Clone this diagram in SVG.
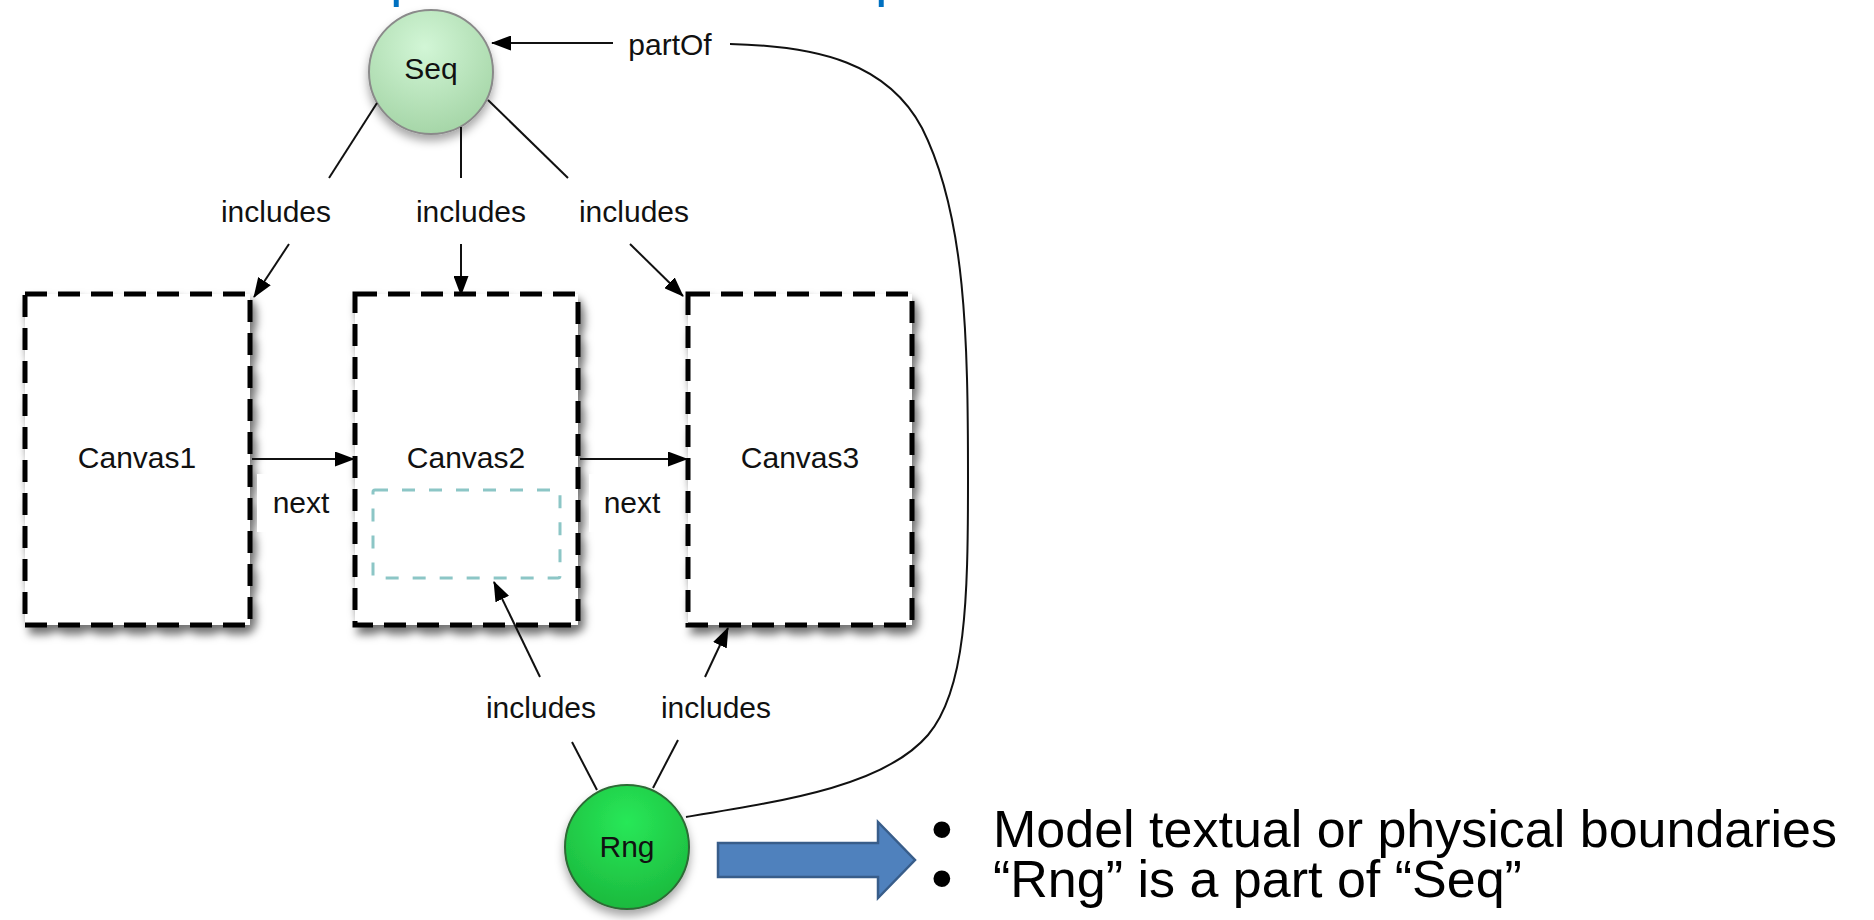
<svg xmlns="http://www.w3.org/2000/svg" width="1874" height="920" viewBox="0 0 1874 920">
  <defs>
    <style>
      .lbl { font-family: "Liberation Sans", Arial, Helvetica, sans-serif; font-size: 30px; fill: #111; text-anchor: middle; }
      .canvas { fill: #fff; stroke: #000; stroke-width: 5; stroke-dasharray: 22 11; }
      .inner { fill: none; stroke: #8cc6c6; stroke-width: 3; stroke-dasharray: 13 14; }
      .edge { fill: none; stroke: #111; stroke-width: 2; }
      .arrow { marker-end: url(#head); }
      .bullet { font-family: "Liberation Sans", Arial, Helvetica, sans-serif; font-size: 52px; fill: #000; }
      .dot { font-family: "Liberation Sans", Arial, Helvetica, sans-serif; font-size: 62px; fill: #000; }
      .title { font-family: "Liberation Sans", Arial, Helvetica, sans-serif; font-size: 56px; fill: #0070c0; }
    </style>
    <marker id="head" markerUnits="userSpaceOnUse" markerWidth="20" markerHeight="15" refX="19" refY="7.5" orient="auto">
      <path d="M0,0 L20,7.5 L0,15 Z" fill="#000"/>
    </marker>
    <filter id="shadow" x="-20%" y="-20%" width="150%" height="150%">
      <feDropShadow dx="4" dy="7" stdDeviation="4" flood-color="#000" flood-opacity="0.55"/>
    </filter>
    <filter id="softShadow" x="-30%" y="-30%" width="160%" height="170%">
      <feDropShadow dx="0" dy="6" stdDeviation="5" flood-color="#000" flood-opacity="0.35"/>
    </filter>
    <radialGradient id="seqFill" cx="45%" cy="30%" r="70%">
      <stop offset="0" stop-color="#d2f6d6"/>
      <stop offset="1" stop-color="#a6d6a8"/>
    </radialGradient>
    <radialGradient id="rngFill" cx="50%" cy="30%" r="70%">
      <stop offset="0" stop-color="#28e858"/>
      <stop offset="1" stop-color="#1cba3e"/>
    </radialGradient>
  </defs>

  <rect width="1874" height="920" fill="#fff"/>

  <!-- descenders of the heading line above the drawing area -->
  <text class="title" x="390" y="-5">p</text>
  <text class="title" x="875" y="-5">p</text>

  <!-- canvases -->
  <g id="canvas1">
    <rect class="canvas" x="25" y="294" width="225" height="331" filter="url(#shadow)"/>
    <text class="lbl" x="137" y="468">Canvas1</text>
  </g>
  <g id="canvas2">
    <rect class="canvas" x="355" y="294" width="223" height="331" filter="url(#shadow)"/>
    <text class="lbl" x="466" y="468">Canvas2</text>
    <rect id="region" class="inner" x="373" y="490" width="187" height="88" rx="2"/>
  </g>
  <g id="canvas3">
    <rect class="canvas" x="688" y="294" width="224" height="331" filter="url(#shadow)"/>
    <text class="lbl" x="800" y="468">Canvas3</text>
  </g>

  <!-- sequence and range nodes -->
  <g id="seq">
    <circle cx="431" cy="72" r="62" fill="url(#seqFill)" stroke="#8a8a8a" stroke-width="2" filter="url(#softShadow)"/>
    <text class="lbl" x="431" y="79">Seq</text>
  </g>
  <g id="rng">
    <circle cx="627" cy="847" r="62" fill="url(#rngFill)" stroke="#2d6a35" stroke-width="2" filter="url(#softShadow)"/>
    <text class="lbl" x="627" y="857">Rng</text>
  </g>

  <!-- connectors -->
  <g id="connectors">
    <!-- Seq includes Canvas1..3 -->
    <line class="edge" x1="377" y1="103" x2="329" y2="178"/>
    <line class="edge arrow" x1="289" y1="244" x2="254" y2="297"/>
    <text class="lbl" x="276" y="222">includes</text>

    <line class="edge" x1="461" y1="127" x2="461" y2="178"/>
    <line class="edge arrow" x1="461" y1="244" x2="461" y2="295"/>
    <text class="lbl" x="471" y="222">includes</text>

    <line class="edge" x1="488" y1="100" x2="568" y2="178"/>
    <line class="edge arrow" x1="630" y1="244" x2="683" y2="296"/>
    <text class="lbl" x="634" y="222">includes</text>

    <!-- next links -->
    <line class="edge arrow" x1="252" y1="459" x2="354" y2="459"/>
    <rect x="257" y="474" width="86" height="58" fill="#fff"/>
    <text class="lbl" x="301" y="513">next</text>

    <line class="edge arrow" x1="580" y1="459" x2="687" y2="459"/>
    <rect x="589" y="474" width="86" height="58" fill="#fff"/>
    <text class="lbl" x="632" y="513">next</text>

    <!-- Rng includes region of Canvas2 and Canvas3 -->
    <line class="edge" x1="597" y1="790" x2="572" y2="742"/>
    <line class="edge arrow" x1="540" y1="677" x2="494" y2="582"/>
    <text class="lbl" x="541" y="718">includes</text>

    <line class="edge" x1="653" y1="788" x2="678" y2="740"/>
    <line class="edge arrow" x1="705" y1="677" x2="728" y2="628"/>
    <text class="lbl" x="716" y="718">includes</text>

    <!-- Rng partOf Seq -->
    <path class="edge" d="M686 817 C790 800 885 785 928 735 C966 690 968 600 968 480 C968 340 966 215 922 128 C888 64 820 46 730 44"/>
    <line class="edge arrow" x1="613" y1="43" x2="492" y2="43"/>
    <text class="lbl" x="670" y="55">partOf</text>
  </g>

  <!-- block arrow and notes -->
  <g id="note">
    <polygon points="718,843 878,843 878,822 915,860 878,898 878,877 718,877" fill="#4f81bd" stroke="#385d8a" stroke-width="2.5" stroke-linejoin="miter"/>
    <text class="dot" x="931" y="850">•</text>
    <text class="bullet" x="993" y="847">Model textual or physical boundaries</text>
    <text class="dot" x="931" y="899">•</text>
    <text class="bullet" x="993" y="897">“Rng” is a part of “Seq”</text>
  </g>
</svg>
